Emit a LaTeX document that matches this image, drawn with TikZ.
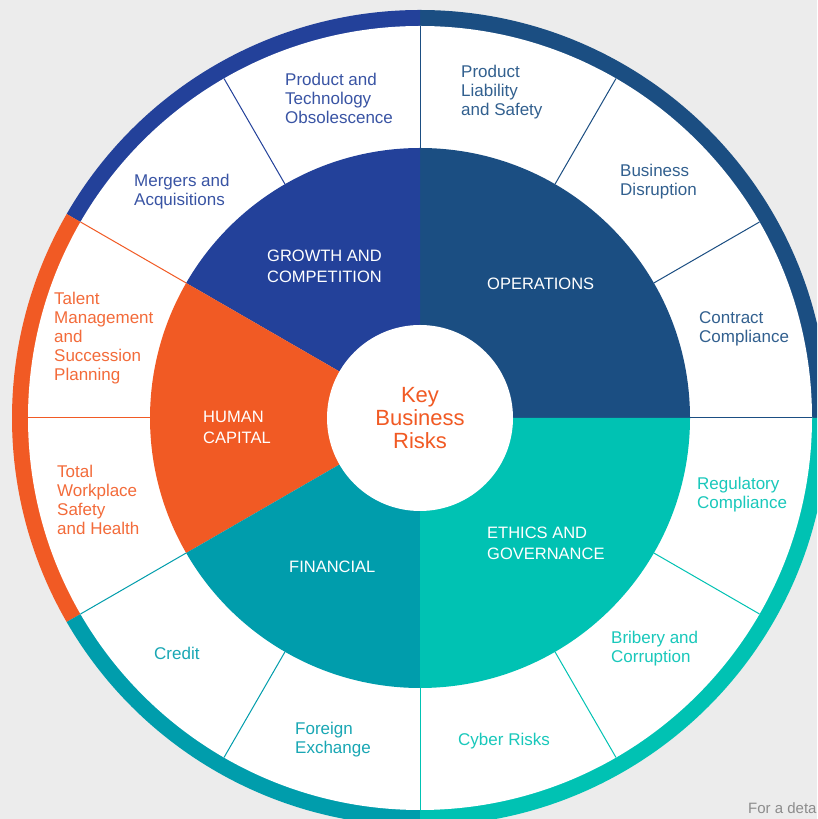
\documentclass[tikz,border=0pt]{standalone}
\usepackage{fontspec}
\setmainfont{Liberation Sans}
\usetikzlibrary{calc}
\definecolor{growth}{HTML}{23419A}
\definecolor{ops}{HTML}{1B4E82}
\definecolor{human}{HTML}{F15A24}
\definecolor{fin}{HTML}{009DAC}
\definecolor{ethics}{HTML}{00C2B3}
\definecolor{bgc}{HTML}{ECECEC}
\definecolor{foot}{HTML}{8C8C8C}
\tikzset{
  outerlbl/.style={anchor=west, align=left, inner sep=0pt, yshift=-1.5pt, font=\fontsize{17}{19}\selectfont},
  innerlbl/.style={anchor=west, align=left, inner sep=0pt, text=white, font=\fontsize{16.5}{21}\selectfont},
  sepline/.style={line width=1pt},
}
\begin{document}
\begin{tikzpicture}[x=1pt,y=1pt]
\useasboundingbox (0,0) rectangle (817,819);
\begin{scope}
\clip (0,0) rectangle (817,819);
\fill[bgc] (0,0) rectangle (817,819);
\coordinate (C) at (420,401);
% outer coloured band
\fill[ops]    (C) -- ++(0:408)   arc[start angle=0,   end angle=90,  radius=408pt] -- cycle;
\fill[growth] (C) -- ++(90:408)  arc[start angle=90,  end angle=150, radius=408pt] -- cycle;
\fill[human]  (C) -- ++(150:408) arc[start angle=150, end angle=210, radius=408pt] -- cycle;
\fill[fin]    (C) -- ++(210:408) arc[start angle=210, end angle=270, radius=408pt] -- cycle;
\fill[ethics] (C) -- ++(270:408) arc[start angle=270, end angle=360, radius=408pt] -- cycle;
% white ring
\fill[white] (C) circle[radius=392pt];
% separators
\foreach \a/\c in {0/ops,30/ops,60/ops,90/ops,120/growth,150/human,180/human,210/fin,240/fin,270/ethics,300/ethics,330/ethics}{
  \draw[sepline,\c] ($(C)+(\a:270)$) -- ($(C)+(\a:392)$);
}
% inner sectors
\fill[ops]    (C) -- ++(0:270)   arc[start angle=0,   end angle=90,  radius=270pt] -- cycle;
\fill[growth] (C) -- ++(90:270)  arc[start angle=90,  end angle=150, radius=270pt] -- cycle;
\fill[human]  (C) -- ++(150:270) arc[start angle=150, end angle=210, radius=270pt] -- cycle;
\fill[fin]    (C) -- ++(210:270) arc[start angle=210, end angle=270, radius=270pt] -- cycle;
\fill[ethics] (C) -- ++(270:270) arc[start angle=270, end angle=360, radius=270pt] -- cycle;
% centre
\fill[white] (C) circle[radius=93pt];
\node[align=center, text=human, inner sep=0pt, font=\fontsize{22}{23}\selectfont] (key) at (C) {Key\\Business\\Risks};
% inner labels
\node[innerlbl] (g) at (267,552.5) {GROWTH AND\\COMPETITION};
\node[innerlbl] (o) at (487,535) {OPERATIONS};
\node[innerlbl] (h) at (203,391.5) {HUMAN\\CAPITAL};
\node[innerlbl] (f) at (289,252) {FINANCIAL};
\node[innerlbl] (e) at (487,276) {ETHICS AND\\GOVERNANCE};
% outer labels
\node[outerlbl, text=growth!90!white] (l1) at (285,722) {Product and\\Technology\\Obsolescence};
\node[outerlbl, text=growth!90!white] (l2) at (134,628.5) {Mergers and\\Acquisitions};
\node[outerlbl, text=ops!90!white] (l3) at (461,728) {Product\\Liability\\and Safety};
\node[outerlbl, text=ops!90!white] (l4) at (620,638.5) {Business\\Disruption};
\node[outerlbl, text=ops!90!white] (l5) at (699,491.5) {Contract\\Compliance};
\node[outerlbl, text=human!90!white] (l6) at (54,482) {Talent\\Management\\and\\Succession\\Planning};
\node[outerlbl, text=human!90!white] (l7) at (57,321) {Total\\Workplace\\Safety\\and Health};
\node[outerlbl, text=fin!90!white] (l8) at (154,167) {Credit};
\node[outerlbl, text=fin!90!white] (l9) at (295,80.5) {Foreign\\Exchange};
\node[outerlbl, text=ethics!90!white] (l10) at (458,79) {Cyber Risks};
\node[outerlbl, text=ethics!90!white] (l11) at (611,171.5) {Bribery and\\Corruption};
\node[outerlbl, text=ethics!90!white] (l12) at (697,326) {Regulatory\\Compliance};
% footer
\node[anchor=west, inner sep=0pt, text=foot, font=\fontsize{15}{17}\selectfont] (ft) at (748,11) {For a deta};
\end{scope}
\end{tikzpicture}
\end{document}
